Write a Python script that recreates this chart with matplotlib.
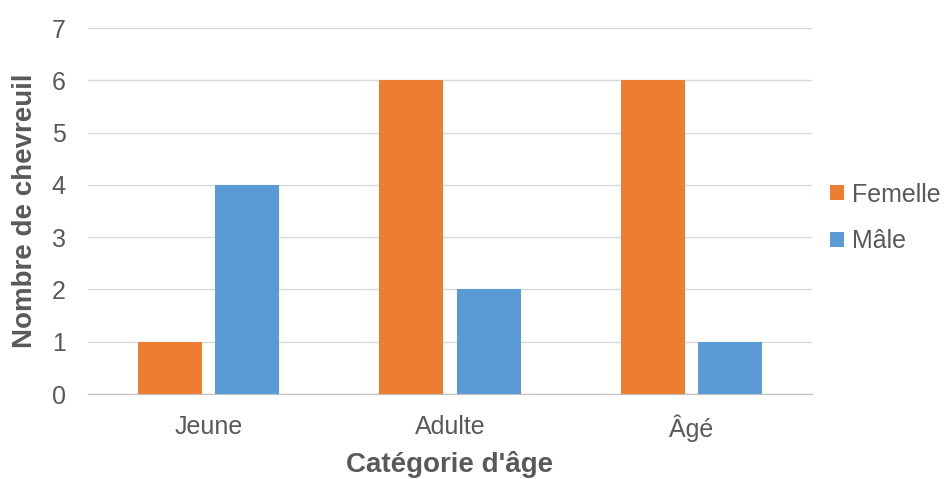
import matplotlib.pyplot as plt
import numpy as np

categories = ["Jeune", "Adulte", "Âgé"]
femelle = [1, 6, 6]
male = [4, 2, 1]
series_names = ["Femelle", "Mâle"]

ORANGE = "#ED7D31"
BLUE = "#5B9BD5"
GRAY = "#595959"

plt.rcParams["font.family"] = ["Liberation Sans", "DejaVu Sans"]

fig = plt.figure(figsize=(9.51, 4.79), dpi=100)
ax = fig.add_axes([88 / 951, 1 - 394 / 479, (812 - 88) / 951, (394 - 28) / 479])

x = np.arange(len(categories))
w = 0.265
off = 0.16
ax.bar(x - off, femelle, w, color=ORANGE, label=series_names[0], zorder=3)
ax.bar(x + off, male, w, color=BLUE, label=series_names[1], zorder=3)

ax.set_xlim(-0.5, len(categories) - 0.5)
ax.set_ylim(0, 7)
ax.set_yticks(range(8))
ax.yaxis.grid(True, color="#D9D9D9", linewidth=1, zorder=0)
ax.set_xticks(x)
ax.set_xticklabels(categories)
ax.tick_params(axis="both", length=0, labelsize=18, colors=GRAY)
ax.tick_params(axis="x", pad=15)
ax.tick_params(axis="y", pad=16)

for side in ["top", "right", "left"]:
    ax.spines[side].set_visible(False)
ax.spines["bottom"].set_color("#BFBFBF")

ax.set_xlabel("Catégorie d'âge", fontsize=20, fontweight="bold", color=GRAY, labelpad=6)
ax.set_ylabel("Nombre de chevreuil", fontsize=20, fontweight="bold", color=GRAY, labelpad=10)

leg = fig.legend(loc="center left", bbox_to_anchor=(830 / 951, 1 - 218 / 479),
                 frameon=False, borderpad=0, borderaxespad=0,
                 fontsize=18, handlelength=0.55, handleheight=0.55, handletextpad=0.35,
                 labelspacing=0.9, labelcolor=GRAY)

fig.savefig("out.png", dpi=100)
